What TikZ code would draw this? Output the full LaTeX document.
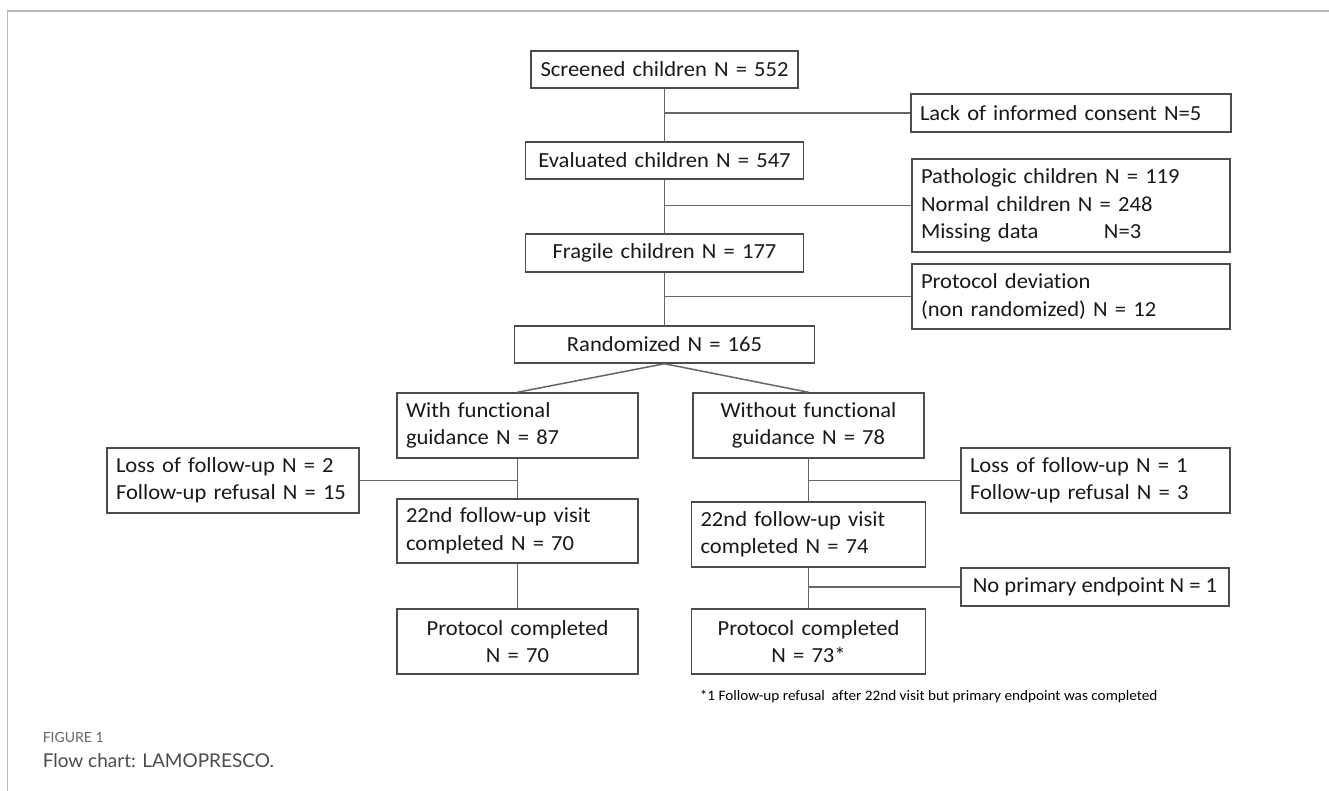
\documentclass[tikz,border=0pt]{standalone}
\usepackage{fontspec}
\setmainfont{Carlito}[FakeStretch=1.05, Ligatures=NoCommon]
\newfontfamily\capfont{Lato}
\usepackage{xcolor}
\usetikzlibrary{shadows}

\begin{document}
\begin{tikzpicture}[x=1pt, y=-1pt, line width=1.5pt,
    box/.style={draw=black!70, fill=white, text=black!90, inner xsep=9pt, inner ysep=0pt,
        drop shadow={shadow xshift=0.6pt, shadow yshift=-1.2pt, opacity=0.3},
        font=\fontsize{21.5}{27.5}\selectfont},
    link/.style={draw=black!60}]
    \useasboundingbox (0,0) rectangle (1329,791);
    % Frame
    \draw[gray!55] (7.5,791) -- (7.5,11) -- (1329,11);
    % Main column
    \node[box, text width=249pt, minimum height=37pt, align=center] (scr) at (664.5,69.5) {Screened children N = 552};
    \node[box, text width=260pt, minimum height=37pt, align=center] (eval) at (664.5,160.5) {Evaluated children N = 547};
    \node[box, text width=260pt, minimum height=38pt, align=center] (frag) at (664.5,253) {Fragile children N = 177};
    \node[box, text width=282pt, minimum height=37pt, align=center] (rand) at (664.5,344.5) {Randomized N = 165};
    \draw[link] (scr.south) -- (eval.north);
    \draw[link] (eval.south) -- (frag.north);
    \draw[link] (frag.south) -- (rand.north);
    % Exclusions
    \node[box, text width=302pt, minimum height=38pt, align=left] (lack) at (1071,113) {Lack of informed consent N=5};
    \node[box, text width=300pt, minimum height=93pt, align=left] (path) at (1071,205.5) {Pathologic children N = 119\\
        Normal children N = 248\\
        \makebox[183pt][l]{Missing data}N=3};
    \node[box, text width=300pt, minimum height=65pt, align=left] (dev) at (1071,296.5) {Protocol deviation\\(non randomized) N = 12};
    \foreach \n in {lack,path,dev} \draw[link] (\n.west) -- (\n.west -| scr.south);
    % Arms
    \node[box, text width=223pt, minimum height=65pt, align=left] (with) at (517.5,425.5) {With functional\\guidance N = 87};
    \node[box, text width=213pt, minimum height=65pt, align=center] (without) at (808.5,425.5) {Without functional\\guidance N = 78};
    \draw[link] (rand.south) -- (with.north);
    \draw[link] (rand.south) -- (without.north);
    % Left arm
    \node[box, text width=234pt, minimum height=65pt, align=left] (lossL) at (233,480.5) {Loss of follow-up N = 2\\Follow-up refusal N = 15};
    \node[box, text width=223pt, minimum height=64pt, align=left] (visL) at (517.5,531) {22nd follow-up visit\\completed N = 70};
    \node[box, text width=223pt, minimum height=65pt, align=center] (protL) at (517.5,641.5) {Protocol completed\\N = 70};
    \draw[link] (with.south) -- (visL.north);
    \draw[link] (visL.south) -- (protL.north);
    \draw[link] (lossL.east) -- (lossL.east -| with.south);
    % Right arm
    \node[box, text width=251pt, minimum height=65pt, align=left] (lossR) at (1095.5,480.5) {Loss of follow-up N = 1\\Follow-up refusal N = 3};
    \node[box, text width=216pt, minimum height=65pt, align=left] (visR) at (808.5,534.5) {22nd follow-up visit\\completed N = 74};
    \node[box, inner xsep=4pt, minimum width=268pt, minimum height=38pt] (noprim) at (1095,587) {No primary endpoint N = 1};
    \node[box, text width=216pt, minimum height=65pt, align=center] (protR) at (808.5,641.5) {Protocol completed\\N = 73*};
    \draw[link] (without.south) -- (visR.north);
    \draw[link] (visR.south) -- (protR.north);
    \draw[link] (lossR.west) -- (lossR.west -| without.south);
    \draw[link] (noprim.west) -- (noprim.west -| visR.south);
    % Footnote and caption
    \node[anchor=west, inner sep=0pt, font=\fontsize{14.5}{16}\selectfont] (note) at (699,697) {*1 Follow-up refusal~ after 22nd visit but primary endpoint was completed};
    \node[anchor=west, inner sep=0pt, text=black!60, font=\capfont\fontsize{14}{16}\selectfont] (fig) at (42,737) {FIGURE 1};
    \node[anchor=west, inner sep=0pt, text=black!70, font=\capfont\fontsize{19}{22}\selectfont] (cap) at (42,761) {Flow chart: LAMOPRESCO.};
\end{tikzpicture}
\end{document}
